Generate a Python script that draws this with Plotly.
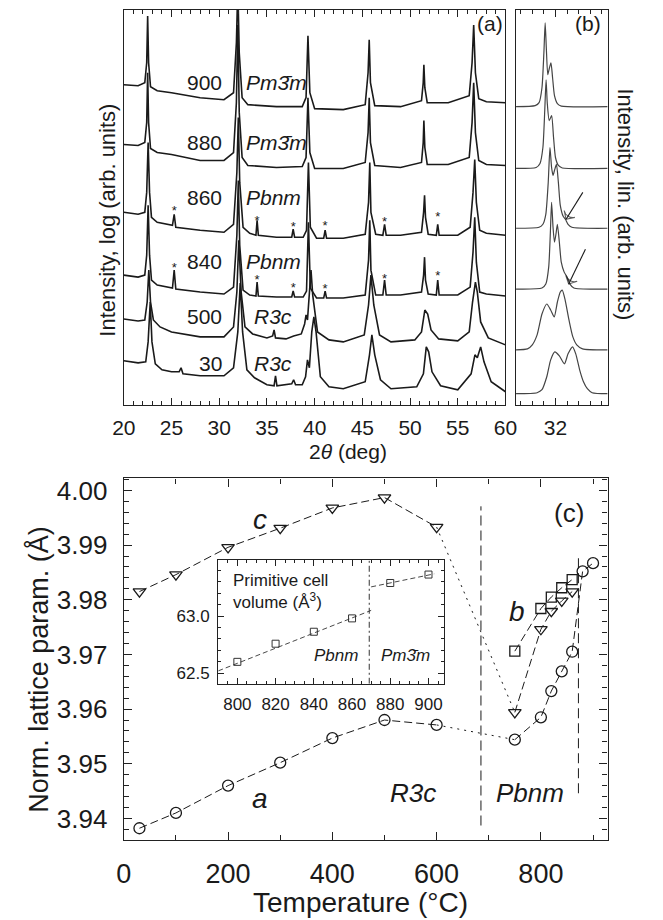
import plotly.graph_objects as go

# ---------------- Panel (a): XRD patterns (log intensity, arb. units, stacked) ----------------
tt_hi = [20, 21.5, 22.2, 22.4, 22.5, 22.6, 22.8, 23.5, 25, 28, 30.5, 31.5, 31.8, 31.95, 32.1, 32.4, 33, 36,
         38.7, 39.1, 39.3, 39.5, 40, 43, 45.3, 45.6, 45.72, 45.85, 46.3, 49, 51.2, 51.38, 51.45, 51.55, 51.8,
         54, 56.2, 56.5, 56.67, 56.85, 57.2, 58, 60]
I_900 = [321, 320, 323, 343, 390, 343, 319, 315, 313, 308, 306, 313, 363, 420, 353, 308, 301, 299, 299, 308,
         370, 313, 297, 296, 301, 333, 366, 323, 300, 299, 305, 323, 341, 318, 303, 303, 310, 343, 381, 333,
         307, 304, 303]
I_880 = [261, 260, 263, 283, 333, 283, 257, 253, 251, 245, 245, 253, 303, 381, 293, 248, 240, 238, 239, 248,
         308, 253, 237, 237, 243, 273, 308, 263, 240, 238, 243, 263, 285, 258, 241, 241, 248, 283, 323, 273,
         245, 241, 240]

tt_pbnm = [20, 21.5, 22.2, 22.4, 22.55, 22.7, 22.9, 23.5, 25.1, 25.28, 25.45, 28, 30.5, 31.5, 31.85, 32.0,
           32.15, 32.5, 33.2, 33.85, 33.97, 34.1, 36, 37.6, 37.75, 37.9, 38.8, 39.15, 39.35, 39.55, 40.2,
           40.95, 41.1, 41.25, 43, 45.3, 45.65, 45.78, 45.9, 46.4, 47.15, 47.33, 47.5, 49, 51.2, 51.42, 51.52,
           51.62, 51.9, 52.75, 52.9, 53.05, 55, 56.3, 56.6, 56.78, 56.95, 57.3, 58, 60]
I_860 = [193, 191, 193, 213, 263, 213, 188, 183, 180, 191, 178, 175, 173, 181, 233, 288, 223, 178, 172, 170,
         185, 170, 168, 168, 176, 168, 168, 175, 243, 178, 167, 167, 175, 167, 167, 171, 203, 243, 193, 171,
         170, 181, 170, 170, 173, 193, 210, 188, 171, 170, 181, 170, 170, 178, 213, 246, 203, 175, 172, 170]
I_840 = [130, 128, 130, 150, 200, 150, 125, 120, 117, 135, 116, 113, 111, 118, 170, 225, 160, 115, 110, 109,
         123, 109, 108, 108, 114, 108, 108, 114, 183, 117, 107, 107, 114, 107, 107, 110, 145, 185, 135, 110,
         110, 125, 110, 110, 113, 130, 148, 125, 111, 110, 125, 110, 110, 118, 153, 188, 143, 113, 111, 109]

tt_500 = [20, 21.5, 22.2, 22.45, 22.62, 22.8, 23.1, 23.8, 25, 28, 30.5, 31.5, 31.85, 32.05, 32.3, 32.7, 33.5,
          35, 35.6, 35.75, 35.9, 37, 37.8, 38.6, 38.95, 39.1, 39.25, 39.45, 39.62, 39.8, 40.3, 41.5, 43, 45.2,
          45.65, 45.9, 46.2, 46.8, 48, 50.5, 51.2, 51.55, 51.85, 52.2, 53, 55, 56.2, 56.55, 56.85, 57.05, 57.4,
          58.2, 60]
I_500 = [86, 84, 85, 103, 135, 103, 85, 78, 73, 68, 68, 78, 113, 165, 113, 78, 71, 67, 69, 75, 67, 66, 69, 71,
         81, 90, 85, 110, 135, 110, 73, 65, 63, 70, 100, 130, 100, 70, 63, 65, 73, 95, 91, 75, 66, 64, 73, 103,
         123, 113, 83, 67, 60]

tt_30 = [20, 21.5, 22.3, 22.55, 22.77, 22.95, 23.3, 24, 25, 25.8, 26, 26.2, 28, 30.5, 31.5, 31.95, 32.2, 32.45,
         32.9, 33.7, 35, 35.75, 35.9, 36.05, 37.6, 37.8, 38, 38.7, 39.05, 39.25, 39.45, 39.7, 39.92, 40.15,
         40.6, 41.5, 43, 45.3, 45.75, 46.0, 46.3, 46.9, 48, 50.7, 51.4, 51.7, 51.95, 52.3, 53.2, 55, 56.4, 56.8,
         57.05, 57.4, 57.75, 58.5, 60]
I_30 = [44, 42, 43, 63, 103, 63, 41, 35, 33, 33, 37, 31, 29, 29, 37, 73, 122, 73, 35, 27, 20, 19, 29, 19, 21,
        25, 20, 20, 28, 45, 37, 73, 88, 73, 28, 18, 16, 23, 50, 70, 50, 25, 16, 18, 31, 58, 53, 33, 19, 15, 31,
        50, 47, 58, 43, 23, 13]

spec_temps = ["900", "880", "860", "840", "500", "30"]
spec_phases = ["Pm3\u0304m", "Pm3\u0304m", "Pbnm", "Pbnm", "R3c", "R3c"]
spec_label_y = [323, 263, 208, 144, 88, 41]
spec_phase_x = [32.6, 32.6, 32.6, 32.6, 33.4, 33.4]

star_x = [25.28, 33.97, 37.75, 41.1, 47.33, 52.9]
star_y_860 = [194, 184, 178, 179, 183, 188]
star_y_840 = [136, 124, 116, 115, 125, 128]

# ---------------- Panel (b): 32 deg peak, linear intensity ----------------
b_tt_900 = [31.317, 31.65, 31.717, 31.767, 31.8, 31.822, 31.842, 31.867, 31.892, 31.922, 31.95, 31.983, 32.033, 32.1, 32.9]
b_I_900 = [299, 300, 303, 318, 353, 383, 358, 331, 337, 343, 328, 310, 302, 299.5, 299]
b_tt_880 = [31.317, 31.667, 31.733, 31.783, 31.817, 31.838, 31.858, 31.892, 31.933, 31.967, 32.0, 32.05, 32.117, 32.9]
b_I_880 = [237, 238, 242, 258, 298, 326, 303, 285, 290, 268, 248, 240, 237.5, 237]
b_tt_860 = [31.317, 31.717, 31.783, 31.833, 31.875, 31.905, 31.933, 31.958, 31.983, 32.017, 32.05, 32.083, 32.133, 32.172, 32.217, 32.283, 32.9]
b_I_860 = [177, 178, 181, 191, 223, 258, 238, 230, 235, 241, 223, 200, 189, 186, 181, 178, 177]
b_tt_840 = [31.317, 31.767, 31.833, 31.883, 31.912, 31.933, 31.958, 31.983, 32.008, 32.033, 32.067, 32.1, 32.15, 32.2, 32.25, 32.317, 32.9]
b_I_840 = [116, 117, 121, 138, 173, 203, 178, 163, 171, 181, 163, 143, 133, 128, 121, 117, 116]
b_tt_500 = [31.317, 31.517, 31.6, 31.683, 31.767, 31.85, 31.917, 31.978, 32.033, 32.083, 32.117, 32.167, 32.233, 32.3, 32.367, 32.467, 32.9]
b_I_500 = [55, 56, 60, 70, 91, 101, 95, 88, 103, 113, 115, 105, 85, 68, 60, 56, 55]
b_tt_30 = [31.317, 31.683, 31.767, 31.85, 31.917, 31.988, 32.067, 32.155, 32.217, 32.295, 32.35, 32.417, 32.483, 32.55, 32.633, 32.9]
b_I_30 = [11, 12, 15, 28, 45, 53, 49, 41, 51, 58, 51, 35, 23, 16, 12, 11]

arrow_head_tt = [32.183, 32.228]
arrow_head_I = [186, 121]
arrow_tail_tt = [32.472, 32.517]
arrow_tail_I = [213, 156]

# ---------------- Panel (c): normalized lattice parameters ----------------
T_R = [30, 100, 200, 300, 400, 500, 600]
c_R = [3.9815, 3.9846, 3.9896, 3.9931, 3.9968, 3.9987, 3.9933]
a_R = [3.9382, 3.9410, 3.9460, 3.9502, 3.9547, 3.9580, 3.9571]
T_O = [750, 800, 820, 840, 860]
c_O = [3.9594, 3.9746, 3.9779, 3.9798, 3.9815]
b_O = [3.9706, 3.9784, 3.9805, 3.9822, 3.9837]
a_O = [3.9544, 3.9585, 3.9633, 3.9669, 3.9705]
T_C = [880, 900]
a_C = [3.9852, 3.9867]

phase_bound_T = [685, 872]
phase_bound_lo = [3.9387, 3.9446]
phase_bound_hi = [3.9971, 3.9880]

# inset: primitive cell volume
V_T_O = [800, 820, 840, 860]
V_O = [62.599, 62.758, 62.863, 62.980]
V_T_C = [880, 900]
V_C = [63.290, 63.364]
fit_T_O = [790, 870]
fit_V_O = [62.52, 63.05]
fit_T_C = [870, 903]
fit_V_C = [63.256, 63.37]
inset_bound_T = 869

# ---------------- figure ----------------
W, H = 663, 920
def px(x):
    return x / W
def py(y):
    return 1 - y / H

FONT = "Liberation Sans, Arial, sans-serif"
INK = "#1a1a1a"
fig = go.Figure()

# panel (a)
for tt, I in [(tt_hi, I_900), (tt_hi, I_880), (tt_pbnm, I_860), (tt_pbnm, I_840), (tt_500, I_500), (tt_30, I_30)]:
    fig.add_trace(go.Scatter(x=tt, y=I, mode="lines", line=dict(color=INK, width=1.6),
                             xaxis="x", yaxis="y", showlegend=False, hoverinfo="skip"))
for sy in (star_y_860, star_y_840):
    fig.add_trace(go.Scatter(x=star_x, y=sy, mode="text", text=["*"] * len(star_x),
                             textfont=dict(size=13, color=INK, family=FONT),
                             xaxis="x", yaxis="y", showlegend=False, hoverinfo="skip"))

# panel (b)
for tt, I in [(b_tt_900, b_I_900), (b_tt_880, b_I_880), (b_tt_860, b_I_860),
              (b_tt_840, b_I_840), (b_tt_500, b_I_500), (b_tt_30, b_I_30)]:
    fig.add_trace(go.Scatter(x=tt, y=I, mode="lines", line=dict(color="#444", width=1.2, shape="spline", smoothing=0.6),
                             xaxis="x2", yaxis="y2", showlegend=False, hoverinfo="skip"))
for hx, hy, tx, ty in zip(arrow_head_tt, arrow_head_I, arrow_tail_tt, arrow_tail_I):
    fig.add_trace(go.Scatter(x=[tx, hx], y=[ty, hy], mode="lines+markers",
                             line=dict(color=INK, width=1.1),
                             marker=dict(symbol=["circle", "arrow-wide-open"], size=[0, 9], angleref="previous",
                                         color=INK, line=dict(width=1.1, color=INK)),
                             xaxis="x2", yaxis="y2", showlegend=False, hoverinfo="skip"))

# panel (c)
DASH = "8px,4px"
mk = dict(color=INK, size=11, line=dict(width=1.3, color=INK))
line_c = dict(color=INK, width=1, dash=DASH)
fig.add_trace(go.Scatter(x=T_R, y=c_R, mode="lines+markers", line=line_c,
                         marker=dict(symbol="triangle-down-open", **mk), xaxis="x3", yaxis="y3", showlegend=False))
fig.add_trace(go.Scatter(x=T_R, y=a_R, mode="lines+markers", line=line_c,
                         marker=dict(symbol="circle-open", **mk), xaxis="x3", yaxis="y3", showlegend=False))
fig.add_trace(go.Scatter(x=[T_R[-1], T_O[0]], y=[c_R[-1], c_O[0]], mode="lines",
                         line=dict(color=INK, width=1, dash="2px,5px"), xaxis="x3", yaxis="y3", showlegend=False))
fig.add_trace(go.Scatter(x=[T_R[-1], T_O[0]], y=[a_R[-1], a_O[0]], mode="lines",
                         line=dict(color=INK, width=1, dash="2px,5px"), xaxis="x3", yaxis="y3", showlegend=False))
fig.add_trace(go.Scatter(x=T_O, y=c_O, mode="lines+markers", line=line_c,
                         marker=dict(symbol="triangle-down-open", **mk), xaxis="x3", yaxis="y3", showlegend=False))
fig.add_trace(go.Scatter(x=T_O, y=b_O, mode="lines+markers", line=line_c,
                         marker=dict(symbol="square-open", color=INK, size=10, line=dict(width=1.3, color=INK)),
                         xaxis="x3", yaxis="y3", showlegend=False))
fig.add_trace(go.Scatter(x=T_O + T_C, y=a_O + a_C, mode="lines+markers", line=line_c,
                         marker=dict(symbol="circle-open", **mk), xaxis="x3", yaxis="y3", showlegend=False))
for T, lo, hi in zip(phase_bound_T, phase_bound_lo, phase_bound_hi):
    fig.add_trace(go.Scatter(x=[T, T], y=[lo, hi], mode="lines",
                             line=dict(color=INK, width=1, dash="10px,5px"),
                             xaxis="x3", yaxis="y3", showlegend=False, hoverinfo="skip"))

# inset
fig.add_trace(go.Scatter(x=fit_T_O, y=fit_V_O, mode="lines", line=dict(color="#333", width=0.9, dash="5px,3px"),
                         xaxis="x4", yaxis="y4", showlegend=False))
fig.add_trace(go.Scatter(x=fit_T_C, y=fit_V_C, mode="lines", line=dict(color="#333", width=0.9, dash="5px,3px"),
                         xaxis="x4", yaxis="y4", showlegend=False))
fig.add_trace(go.Scatter(x=V_T_O + V_T_C, y=V_O + V_C, mode="markers",
                         marker=dict(symbol="square-open", size=7, color="#333", line=dict(width=1, color="#333")),
                         xaxis="x4", yaxis="y4", showlegend=False))
fig.add_trace(go.Scatter(x=[inset_bound_T, inset_bound_T], y=[62.407, 63.49], mode="lines",
                         line=dict(color="#333", width=1, dash="6px,3px,2px,3px"),
                         xaxis="x4", yaxis="y4", showlegend=False))

ax_common = dict(showline=True, linecolor="#222", linewidth=1.3, mirror="allticks", showgrid=False,
                 zeroline=False, ticks="inside", tickcolor="#222")

dom_ab_y = [py(403), py(7)]
fig.update_layout(
    width=W, height=H, margin=dict(l=0, r=0, t=0, b=0),
    paper_bgcolor="white", plot_bgcolor="white",
    font=dict(family=FONT, color=INK),
    xaxis=dict(domain=[px(116), px(512)], range=[20, 60], anchor="y",
               tickvals=[20, 25, 30, 35, 40, 45, 50, 55, 60], ticklen=7,
               minor=dict(ticks="inside", dtick=1, tick0=20, ticklen=4, tickcolor="#222"),
               tickfont=dict(size=21), ticklabelstandoff=4, **ax_common),
    yaxis=dict(domain=dom_ab_y, range=[0, 396], anchor="x", showticklabels=False,
               showline=True, linecolor="#222", linewidth=1.3, mirror=True, showgrid=False, zeroline=False),
    xaxis2=dict(domain=[px(523), px(618)], range=[31.32, 32.9], anchor="y2",
                tickvals=[32], ticklen=7,
                minor=dict(ticks="inside", dtick=0.2, tick0=32, ticklen=4, tickcolor="#222"),
                tickfont=dict(size=21), ticklabelstandoff=4, **ax_common),
    yaxis2=dict(domain=dom_ab_y, range=[0, 396], anchor="x2", showticklabels=False,
                showline=True, linecolor="#222", linewidth=1.3, mirror=True, showgrid=False, zeroline=False),
    xaxis3=dict(domain=[px(116), px(618)], range=[0, 928], anchor="y3",
                tickvals=[0, 200, 400, 600, 800], ticklen=8,
                minor=dict(ticks="inside", dtick=100, tick0=0, ticklen=5, tickcolor="#222"),
                tickfont=dict(size=27), ticklabelstandoff=9, **ax_common),
    yaxis3=dict(domain=[py(840), py(477)], range=[3.936, 4.0022], anchor="x3",
                tickvals=[3.94, 3.95, 3.96, 3.97, 3.98, 3.99, 4.00], tickformat=".2f", ticklen=8,
                minor=dict(ticks="inside", dtick=0.002, tick0=3.94, ticklen=5, tickcolor="#222"),
                tickfont=dict(size=26), ticklabelstandoff=10, **ax_common),
    xaxis4=dict(domain=[px(214), px(448)], range=[790, 908], anchor="y4",
                tickvals=[800, 820, 840, 860, 880, 900], ticklen=6,
                minor=dict(ticks="inside", dtick=5, tick0=800, ticklen=3, tickcolor="#222"),
                tickfont=dict(size=17), ticklabelstandoff=5, **ax_common),
    yaxis4=dict(domain=[py(683), py(559)], range=[62.407, 63.49], anchor="x4",
                tickvals=[62.5, 63.0], ticktext=["62.5", "63.0"], ticklen=6,
                minor=dict(ticks="inside", dtick=0.1, tick0=62.5, ticklen=3, tickcolor="#222"),
                tickfont=dict(size=17), ticklabelstandoff=4, **ax_common),
)

ann = []
def A(text, x, y, size, xref="paper", yref="paper", angle=0, xanchor="center", yanchor="middle", align="center"):
    ann.append(dict(text=text, x=x, y=y, xref=xref, yref=yref, textangle=angle, showarrow=False,
                    xanchor=xanchor, yanchor=yanchor, align=align, font=dict(size=size, color=INK, family=FONT)))

A("Intensity, log (arb. units)", px(99), py(218), 22, angle=-90)
A("2<i>θ</i> (deg)", px(349), py(450), 21)
A("Intensity, lin. (arb. units)", px(637), py(202), 22, angle=90)
A("(a)", px(496), py(21), 21)
A("(b)", px(598), py(21), 21)
A("Norm. lattice param. (Å)", px(28), py(668), 27, angle=-90)
A("Temperature (°C)", px(362), py(902), 28)

for t, ph, y, xph in zip(spec_temps, spec_phases, spec_label_y, spec_phase_x):
    A(t, 30.5, y, 21, xref="x", yref="y", xanchor="right")
    A("<i>%s</i>" % ph, xph, y, 21, xref="x", yref="y", xanchor="left")

A("<i>c</i>", 261, 3.9947, 28, xref="x3", yref="y3")
A("<i>a</i>", 261, 3.9436, 28, xref="x3", yref="y3")
A("<i>b</i>", 754, 3.9779, 28, xref="x3", yref="y3")
A("<i>R3c</i>", 554, 3.9447, 26, xref="x3", yref="y3")
A("<i>Pbnm</i>", 780, 3.9447, 26, xref="x3", yref="y3")
A("(c)", 854, 3.9958, 26, xref="x3", yref="y3")

A("Primitive cell<br>volume (Å<sup>3</sup>)", px(227), py(568), 17, xanchor="left", yanchor="top", align="left")
A("<i>Pbnm</i>", px(336), py(655), 17)
A("<i>Pm3\u0304m</i>", px(408), py(655), 17)

fig.update_layout(annotations=ann)
fig.write_html("out.html")
